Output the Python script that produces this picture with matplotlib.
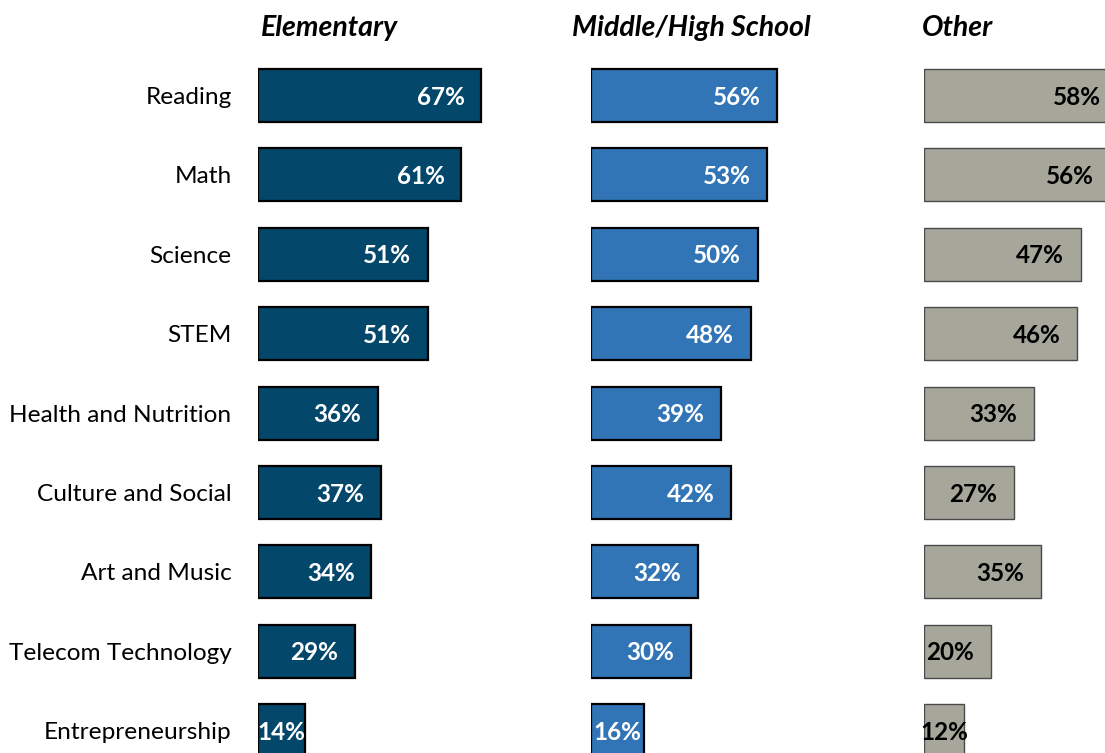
import matplotlib.pyplot as plt

categories = ["Reading", "Math", "Science", "STEM", "Health and Nutrition",
              "Culture and Social", "Art and Music", "Telecom Technology",
              "Entrepreneurship"]
panels = ["Elementary", "Middle/High School", "Other"]
elementary = [67, 61, 51, 51, 36, 37, 34, 29, 14]
middle_high = [56, 53, 50, 48, 39, 42, 32, 30, 16]
other = [58, 56, 47, 46, 33, 27, 35, 20, 12]

series = [elementary, middle_high, other]
face = ["#03476B", "#3175B6", "#A6A79A"]
edge = ["#000000", "#000000", "#4a4a4a"]
edge_w = [1.6, 1.6, 1.0]
txt_color = ["white", "white", "black"]

plt.rcParams['font.family'] = ['Lato', 'DejaVu Sans']

W, H = 1105, 753
fig = plt.figure(figsize=(W / 100, H / 100), dpi=100)

px_per_pct = 3.33
row_step = 79.4
first_center = 95.5
n = len(categories)
top_px = first_center - row_step / 2
bot_px = first_center + row_step * (n - 0.5)
xmax = 75
lefts = [258, 591, 924]
title_x = [261, 572, 922]

for k, vals in enumerate(series):
    ax = fig.add_axes([lefts[k] / W, (H - bot_px) / H,
                       xmax * px_per_pct / W, (bot_px - top_px) / H])
    y = list(range(n))
    ax.barh(y, vals, height=0.67, color=face[k], edgecolor=edge[k],
            linewidth=edge_w[k])
    ax.set_xlim(0, xmax)
    ax.set_ylim(n - 0.5, -0.5)
    for i, v in enumerate(vals):
        # short bars get the label centred, the rest sit near the bar end
        if v >= 18:
            ax.text(v - 5, i + 0.02, f"{v}%", ha="right", va="center",
                    color=txt_color[k], fontsize=17.5, fontweight="bold")
        else:
            ax.text(v / 2, i + 0.02, f"{v}%", ha="center", va="center",
                    color=txt_color[k], fontsize=17.5, fontweight="bold")
    for s in ax.spines.values():
        s.set_visible(False)
    ax.set_xticks([])
    if k == 0:
        ax.set_yticks(y)
        ax.set_yticklabels(categories, fontsize=17.6)
        ax.tick_params(axis="y", length=0, pad=19)
    else:
        ax.set_yticks([])
    fig.text(title_x[k] / W, 1 - 28 / H, panels[k], ha="left", va="center",
             fontsize=20.5, fontweight="bold", style="italic")

fig.savefig("out.png", dpi=100)
